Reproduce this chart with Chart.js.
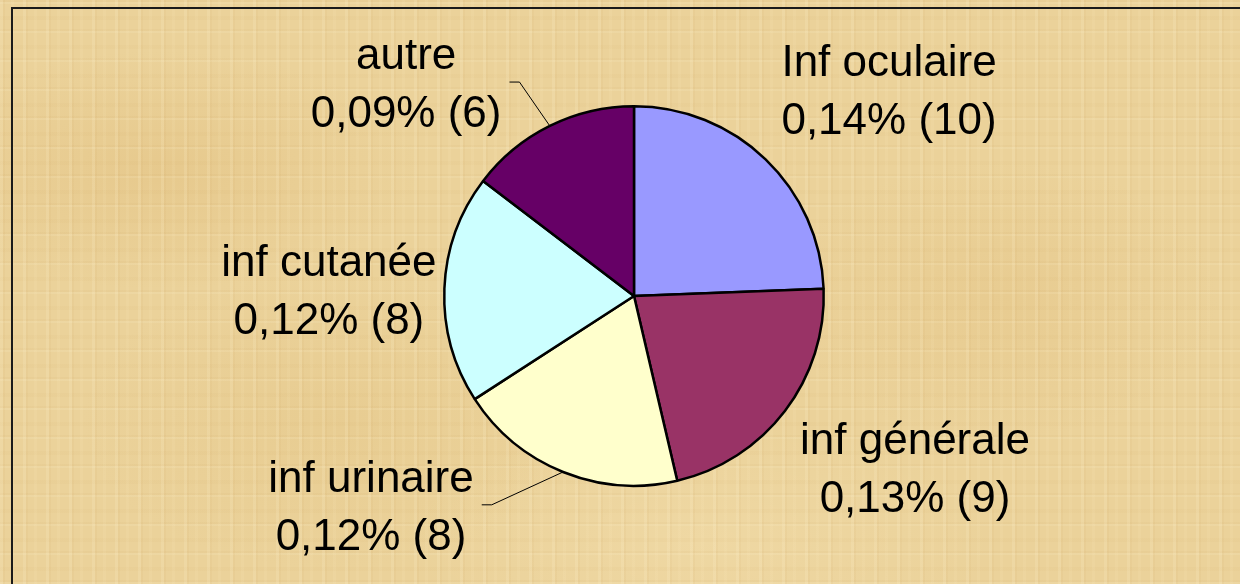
<!DOCTYPE html>
<html>
<head>
<meta charset="utf-8">
<script src="https://cdn.jsdelivr.net/npm/chart.js@4"></script>
<style>
  html, body { margin: 0; padding: 0; width: 1240px; height: 584px; overflow: hidden; }
  body {
    background-color: #ebd29a;
    background-image:
      repeating-linear-gradient(90deg, rgba(255,244,210,0.16) 0 3px, rgba(196,150,80,0.07) 3px 5px, transparent 5px 11px, rgba(255,238,195,0.10) 11px 14px, transparent 14px 23px),
      repeating-linear-gradient(0deg, rgba(255,246,215,0.12) 0 2px, rgba(190,145,75,0.06) 2px 4px, transparent 4px 13px, rgba(205,165,95,0.06) 13px 17px, transparent 17px 29px),
      radial-gradient(ellipse 260px 120px at 160px 170px, rgba(215,170,95,0.22), transparent),
      radial-gradient(ellipse 220px 140px at 1000px 300px, rgba(215,170,95,0.16), transparent),
      radial-gradient(ellipse 300px 120px at 700px 540px, rgba(255,240,200,0.20), transparent),
      radial-gradient(ellipse 250px 150px at 330px 420px, rgba(215,175,100,0.16), transparent);
    position: relative;
  }
  #frame {
    position: absolute; left: 11px; top: 7px; width: 1300px; height: 700px;
    border: 2px solid #1a1a1a; box-sizing: border-box;
  }
  #wrap { position: absolute; left: 0; top: 0; width: 1240px; height: 584px; }
</style>
</head>
<body>
<div id="frame"></div>
<div id="wrap"><canvas id="pieChart" width="1240" height="584"></canvas></div>
<script>
// Données du graphique
const categories = ['Inf oculaire', 'inf générale', 'inf urinaire', 'inf cutanée', 'autre'];
const counts = [10, 9, 8, 8, 6];
const percents = ['0,14%', '0,13%', '0,12%', '0,12%', '0,09%'];
const sliceColors = ['#9999ff', '#993366', '#ffffcc', '#ccffff', '#660066'];

// Position des étiquettes (en rayons, par rapport au centre du camembert)
const labelOffsets = [[1.344, -1.159], [1.481, 0.831], [-1.386, 1.032], [-1.608, -0.106], [-1.201, -1.196]];
const withLeader = [false, false, true, false, true];

const FONT = '44px "Liberation Sans", Arial, sans-serif';
const LINE_GAP = 58;

// Plugin pour dessiner les étiquettes et les traits de rappel
const pieLabels = {
    id: 'pieLabels',
    afterDatasetsDraw(chart) {
        const ctx = chart.ctx;
        const arcs = chart.getDatasetMeta(0).data;
        ctx.save();
        ctx.font = FONT;
        ctx.fillStyle = '#000';
        ctx.textAlign = 'center';
        ctx.textBaseline = 'alphabetic';
        arcs.forEach((arc, i) => {
            const r = arc.outerRadius;
            const cx = arc.x + labelOffsets[i][0] * r;
            const cy = arc.y + labelOffsets[i][1] * r;
            const line1 = categories[i];
            const line2 = percents[i] + ' (' + counts[i] + ')';
            ctx.fillText(line1, cx, cy);
            ctx.fillText(line2, cx, cy + LINE_GAP);

            if (withLeader[i]) {
                const half = Math.max(ctx.measureText(line1).width, ctx.measureText(line2).width) / 2;
                const mid = (arc.startAngle + arc.endAngle) / 2;
                const ex = arc.x + Math.cos(mid) * r;
                const ey = arc.y + Math.sin(mid) * r;
                const hx = cx + half + 8;
                const hy = cy + 13;
                ctx.beginPath();
                ctx.strokeStyle = '#000';
                ctx.lineWidth = 1;
                ctx.moveTo(hx, hy);
                ctx.lineTo(hx + 10, hy);
                ctx.lineTo(ex, ey);
                ctx.stroke();
            }
        });
        ctx.restore();
    }
};

const ctx = document.getElementById('pieChart').getContext('2d');
new Chart(ctx, {
    type: 'pie',
    data: {
        labels: categories,
        datasets: [{
            data: counts,
            backgroundColor: sliceColors,
            borderColor: '#000',
            borderWidth: 2.5
        }]
    },
    options: {
        responsive: false,
        animation: false,
        layout: { padding: { left: 443, right: 415, top: 105, bottom: 97 } },
        plugins: {
            legend: { display: false },
            tooltip: { enabled: false }
        }
    },
    plugins: [pieLabels]
});
</script>
</body>
</html>
